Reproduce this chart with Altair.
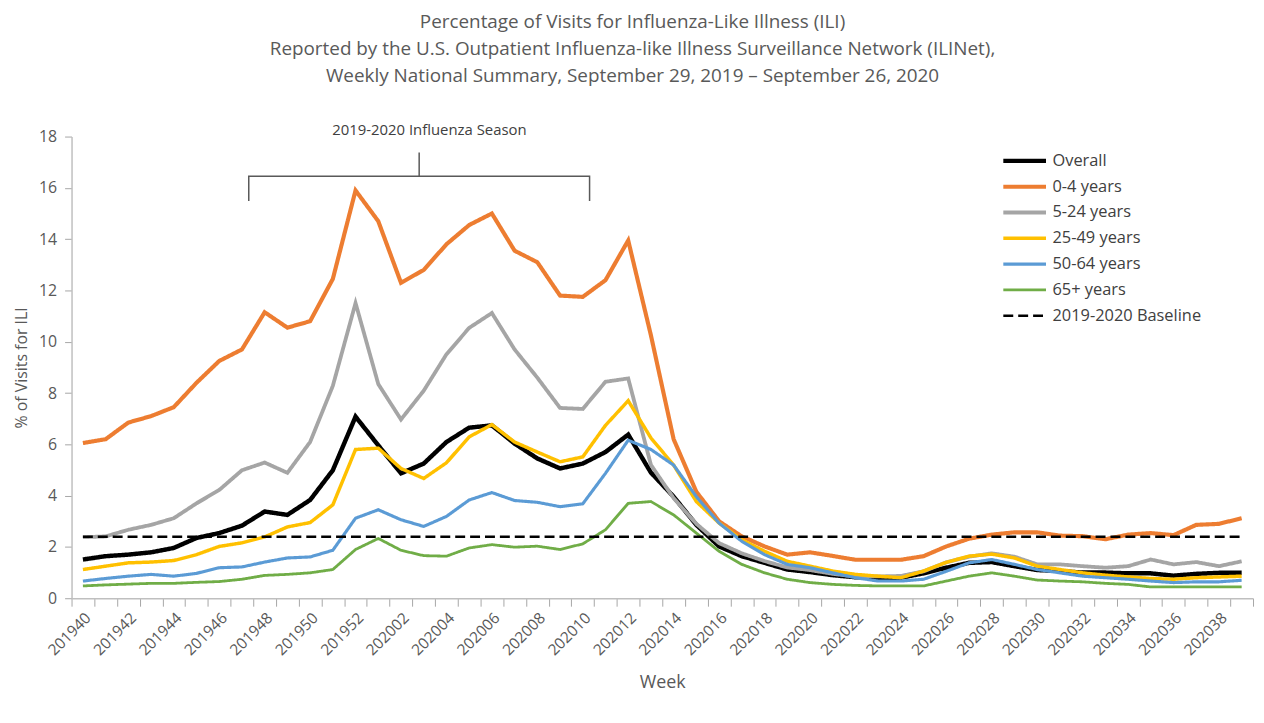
import altair as alt
import pandas as pd

weeks = [f"2019{w}" for w in range(40, 53)] + [f"2020{w:02d}" for w in range(1, 40)]

series_names = ["Overall", "0-4 years", "5-24 years", "25-49 years",
                "50-64 years", "65+ years", "2019-2020 Baseline"]
series_colors = ["#000000", "#ED7D31", "#A5A5A5", "#FFC000", "#5B9BD5", "#70AD47", "#000000"]
series_widths = [4.5, 2.5, 2.5, 2.5, 2.5, 2.5, 3.5]
series_dashes = [[1, 0], [1, 0], [1, 0], [1, 0], [1, 0], [1, 0], [10, 5]]

overall = [1.51, 1.64, 1.70, 1.79, 1.96, 2.35, 2.54, 2.83, 3.38, 3.25, 3.83, 4.99, 7.08,
           5.96, 4.87, 5.25, 6.09, 6.65, 6.74, 6.03, 5.45, 5.06, 5.25, 5.70, 6.38, 4.90,
           3.96, 2.86, 2.02, 1.64, 1.38, 1.12, 1.02, 0.90, 0.82, 0.80, 0.80, 0.97, 1.19,
           1.38, 1.41, 1.25, 1.10, 1.06, 1.00, 1.00, 0.97, 0.97, 0.88, 0.95, 0.99, 0.99]
age_0_4 = [6.05, 6.20, 6.85, 7.10, 7.45, 8.40, 9.25, 9.70, 11.15, 10.55, 10.80, 12.45, 15.90,
           14.70, 12.30, 12.80, 13.80, 14.55, 15.00, 13.55, 13.10, 11.80, 11.75, 12.40, 13.95, 10.25,
           6.20, 4.15, 3.00, 2.41, 2.02, 1.70, 1.79, 1.65, 1.50, 1.50, 1.50, 1.64, 2.02,
           2.32, 2.48, 2.57, 2.57, 2.44, 2.42, 2.30, 2.48, 2.54, 2.46, 2.86, 2.90, 3.12]
age_5_24 = [2.38, 2.41, 2.67, 2.86, 3.12, 3.70, 4.22, 4.99, 5.29, 4.89, 6.09, 8.28, 11.51,
            8.35, 6.97, 8.09, 9.51, 10.54, 11.12, 9.70, 8.60, 7.42, 7.38, 8.44, 8.57, 5.20,
            3.90, 2.90, 2.15, 1.75, 1.45, 1.20, 1.10, 0.95, 0.85, 0.85, 0.87, 1.05, 1.40,
            1.62, 1.75, 1.62, 1.32, 1.32, 1.25, 1.19, 1.25, 1.51, 1.32, 1.41, 1.25, 1.44]
age_25_49 = [1.12, 1.25, 1.38, 1.41, 1.47, 1.70, 2.02, 2.16, 2.39, 2.78, 2.95, 3.64, 5.80,
             5.85, 5.06, 4.67, 5.28, 6.29, 6.77, 6.09, 5.70, 5.32, 5.51, 6.74, 7.70, 6.25,
             5.19, 3.77, 2.93, 2.28, 1.83, 1.44, 1.25, 1.06, 0.93, 0.86, 0.80, 1.06, 1.40,
             1.64, 1.72, 1.57, 1.25, 1.12, 0.99, 0.90, 0.83, 0.77, 0.74, 0.80, 0.83, 0.86]
age_50_64 = [0.67, 0.77, 0.86, 0.93, 0.86, 0.97, 1.19, 1.22, 1.41, 1.57, 1.61, 1.87, 3.12,
             3.45, 3.06, 2.80, 3.19, 3.83, 4.12, 3.81, 3.74, 3.57, 3.68, 4.87, 6.16, 5.80,
             5.19, 3.96, 2.93, 2.22, 1.70, 1.32, 1.19, 0.99, 0.80, 0.67, 0.67, 0.74, 1.05,
             1.38, 1.51, 1.32, 1.12, 0.99, 0.86, 0.80, 0.74, 0.67, 0.61, 0.64, 0.64, 0.70]
age_65 = [0.48, 0.52, 0.55, 0.58, 0.58, 0.62, 0.65, 0.74, 0.89, 0.93, 0.99, 1.12, 1.90,
          2.33, 1.87, 1.66, 1.64, 1.96, 2.09, 1.99, 2.03, 1.90, 2.12, 2.67, 3.70, 3.77,
          3.25, 2.54, 1.83, 1.32, 0.99, 0.74, 0.61, 0.54, 0.50, 0.48, 0.48, 0.48, 0.67,
          0.86, 0.99, 0.86, 0.71, 0.67, 0.64, 0.58, 0.54, 0.44, 0.44, 0.44, 0.44, 0.44]
baseline_value = 2.4

title_lines = ["Percentage of Visits for Influenza-Like Illness (ILI)",
               "Reported by the U.S. Outpatient Influenza-like Illness Surveillance Network (ILINet),",
               "Weekly National Summary, September 29, 2019 \u2013 September 26, 2020"]
season_label = "2019-2020 Influenza Season"

FONT = "Open Sans"
GRAY_TXT = "#595959"

all_series = [overall, age_0_4, age_5_24, age_25_49, age_50_64, age_65,
              [baseline_value] * len(weeks)]
rows = []
for name, vals in zip(series_names, all_series):
    for wk, v in zip(weeks, vals):
        rows.append({"week": wk, "value": v, "series": name})
df = pd.DataFrame(rows)

x_scale = alt.Scale(type="band", domain=weeks, paddingInner=0, paddingOuter=0)
y_scale = alt.Scale(domain=[0, 18], nice=False)

lines = alt.Chart(df).mark_line().encode(
    x=alt.X("week:N", scale=x_scale, bandPosition=0.5,
            axis=alt.Axis(title="Week", tickBand="extent", labelAngle=315,
                          labelExpr="toNumber(datum.value) % 2 == 0 ? datum.label : ''",
                          labelOverlap=False, labelFontSize=15.5, labelColor=GRAY_TXT,
                          labelFont=FONT, labelPadding=4, tickSize=8,
                          tickColor="#A6A6A6", domainColor="#BFBFBF", domainWidth=1.5,
                          titleFontSize=18, titleColor=GRAY_TXT, titleFont=FONT,
                          titleFontWeight="normal", titlePadding=15, grid=False)),
    y=alt.Y("value:Q", scale=y_scale,
            axis=alt.Axis(title="% of Visits for ILI", values=list(range(0, 19, 2)),
                          labelFontSize=16, labelColor=GRAY_TXT, labelFont=FONT,
                          labelPadding=8, tickSize=7, tickColor="#A6A6A6",
                          domainColor="#BFBFBF", domainWidth=1.5,
                          titleFontSize=16, titleColor=GRAY_TXT, titleFont=FONT,
                          titleFontWeight="normal", titlePadding=9, grid=False)),
    color=alt.Color("series:N", scale=alt.Scale(domain=series_names, range=series_colors),
                    legend=alt.Legend(title=None, orient="none", legendX=936, legendY=16,
                                      symbolType="stroke", symbolSize=1850,
                                      clipHeight=17, rowPadding=9, padding=0,
                                      labelFontSize=16.5, labelFont=FONT, labelColor="#404040",
                                      labelOffset=4, symbolStrokeWidth=3)),
    strokeWidth=alt.StrokeWidth("series:N",
                                scale=alt.Scale(domain=series_names, range=series_widths),
                                legend=None),
    strokeDash=alt.StrokeDash("series:N",
                              scale=alt.Scale(domain=series_names, range=series_dashes),
                              legend=None),
    detail="series:N",
)

# Season bracket annotation
bracket_df = pd.DataFrame({
    "week": ["201947", "201947", "202010", "202010"],
    "value": [15.49, 16.45, 16.45, 15.49],
    "order": [0, 1, 2, 3],
})
bracket = alt.Chart(bracket_df).mark_line(color="#595959", strokeWidth=1.5).encode(
    x=alt.X("week:N", scale=x_scale, bandPosition=0.8),
    y=alt.Y("value:Q", scale=y_scale),
    order="order:Q",
)
stem_df = pd.DataFrame({"week": ["202003", "202003"], "value": [16.45, 17.38], "order": [0, 1]})
stem = alt.Chart(stem_df).mark_line(color="#595959", strokeWidth=1.5).encode(
    x=alt.X("week:N", scale=x_scale, bandPosition=0.3),
    y=alt.Y("value:Q", scale=y_scale),
    order="order:Q",
)
label_df = pd.DataFrame({"week": ["202003"], "value": [18.27], "text": [season_label]})
season_text = alt.Chart(label_df).mark_text(font=FONT, fontSize=15, color="#404040",
                                            align="center", baseline="middle").encode(
    x=alt.X("week:N", scale=x_scale, bandPosition=0.75),
    y=alt.Y("value:Q", scale=y_scale),
    text="text:N",
)

chart = alt.layer(lines, bracket, stem, season_text).properties(
    width=1190, height=465,
    padding={"left": 5, "right": 2, "top": 3, "bottom": 5},
    title=alt.TitleParams(text=title_lines, font=FONT, fontSize=19, fontWeight="normal",
                          color=GRAY_TXT, anchor="middle", dx=-30, lineHeight=27,
                          offset=37),
).configure_view(stroke=None)

chart.save("out.html", embed_options={"renderer": "svg", "actions": False})
